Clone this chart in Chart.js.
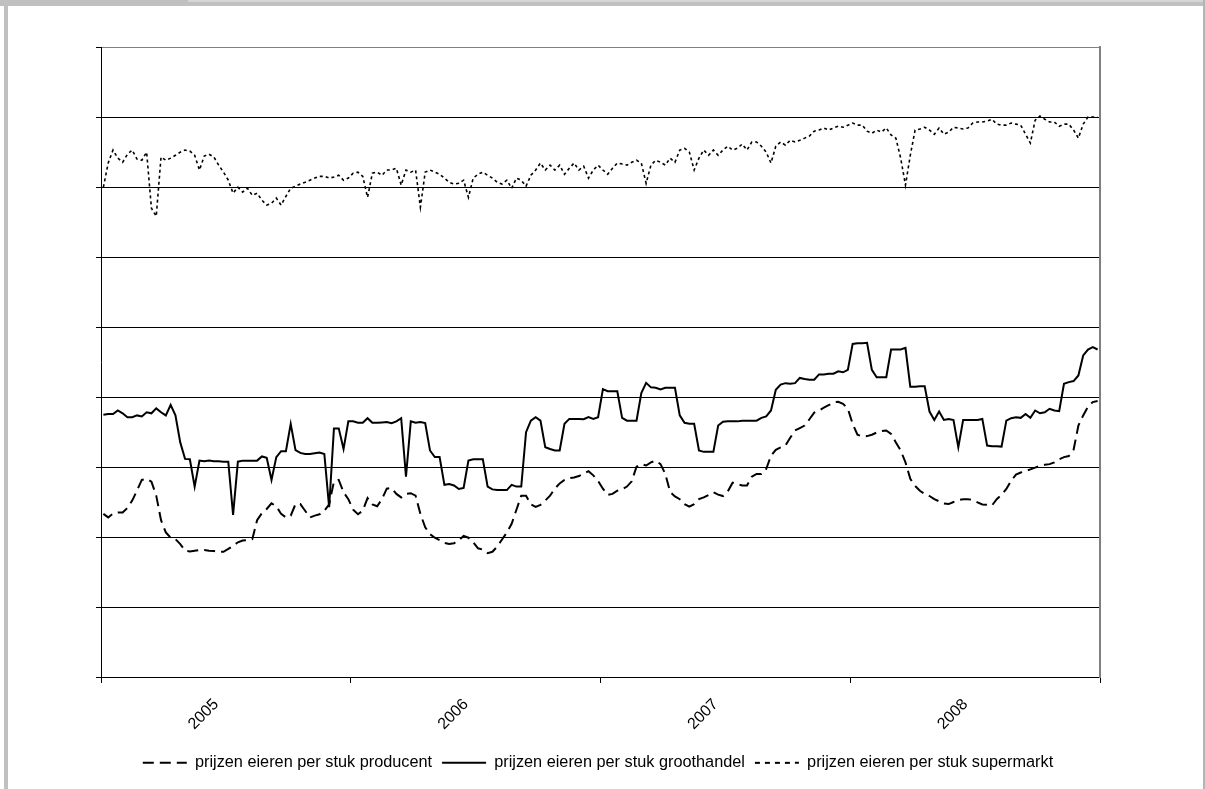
<!DOCTYPE html>
<html><head><meta charset="utf-8">
<script src="https://cdn.jsdelivr.net/npm/chart.js@4/dist/chart.umd.min.js"></script>
<style>
html,body{margin:0;padding:0;background:#fff;width:1205px;height:789px;overflow:hidden;position:relative}
#c{position:absolute;left:0;top:0}
.topbar{position:absolute;left:0;top:0;width:1205px;height:6px;background:#c0c0c0}
.toplight{position:absolute;left:188px;top:0;width:1017px;height:2px;background:#d6d6d6}
.leftbar{position:absolute;left:4px;top:6px;width:4px;height:783px;background:#c0c0c0}
.rightbar{position:absolute;left:1203px;top:0;width:2px;height:789px;background:#b4b4b4}
</style></head><body>
<canvas id="c" width="1205" height="789"></canvas>
<div class="topbar"></div><div class="toplight"></div><div class="leftbar"></div><div class="rightbar"></div>
<script>
const yearLabels = ['2005','2006','2007','2008'];
const seriesNames = ['prijzen eieren per stuk producent','prijzen eieren per stuk groothandel','prijzen eieren per stuk supermarkt'];

const producent = [
4.68,4.58,4.69,4.72,4.72,4.85,5.06,5.35,5.65,5.68,
5.6,5.2,4.5,4.15,4.0,3.96,3.82,3.63,3.61,3.63,
3.65,3.65,3.63,3.62,3.60,3.60,3.68,3.77,3.87,3.92,
3.93,3.96,4.5,4.7,4.82,4.98,4.9,4.68,4.58,4.63,
4.96,4.96,4.77,4.58,4.63,4.67,4.77,4.95,5.6,5.65,
5.3,5.1,4.8,4.67,4.77,5.13,4.95,4.9,5.1,5.4,
5.42,5.25,5.15,5.25,5.27,5.2,4.68,4.3,4.1,4.0,
3.93,3.85,3.82,3.84,3.93,4.05,4.0,3.87,3.7,3.66,
3.56,3.6,3.75,3.95,4.15,4.4,4.8,5.2,5.2,4.95,
4.88,4.94,5.06,5.2,5.4,5.55,5.65,5.7,5.72,5.76,
5.83,5.9,5.78,5.62,5.4,5.22,5.25,5.34,5.38,5.46,
5.61,6.03,6.1,6.06,6.15,6.2,6.1,5.82,5.3,5.18,
5.1,4.96,4.89,4.96,5.1,5.15,5.22,5.3,5.23,5.19,
5.32,5.57,5.53,5.49,5.49,5.74,5.82,5.82,5.96,6.34,
6.51,6.58,6.63,6.85,7.06,7.13,7.2,7.38,7.57,7.63,
7.71,7.78,7.86,7.88,7.82,7.68,7.25,6.94,6.89,6.9,
6.94,7.0,7.04,7.06,6.96,6.72,6.49,6.15,5.68,5.48,
5.34,5.25,5.19,5.1,5.04,4.98,4.96,5.02,5.07,5.1,
5.1,5.08,5.01,4.95,4.94,4.92,5.1,5.23,5.39,5.63,
5.8,5.86,5.9,5.95,6.0,6.05,6.08,6.1,6.15,6.24,
6.3,6.33,6.51,7.2,7.49,7.74,7.87,7.9
];

const groothandel = [
7.51,7.53,7.53,7.63,7.55,7.44,7.44,7.49,7.46,7.58,
7.55,7.69,7.58,7.49,7.79,7.49,6.72,6.25,6.24,5.46,
6.2,6.18,6.2,6.18,6.18,6.17,6.17,4.65,6.17,6.2,
6.2,6.2,6.2,6.32,6.28,5.65,6.3,6.47,6.47,7.25,
6.5,6.42,6.39,6.39,6.41,6.43,6.39,4.87,7.12,7.12,
6.53,7.32,7.32,7.28,7.28,7.41,7.28,7.28,7.29,7.3,
7.27,7.32,7.41,5.74,7.32,7.28,7.3,7.27,6.49,6.3,
6.3,5.51,5.53,5.49,5.39,5.42,6.2,6.24,6.24,6.24,
5.46,5.38,5.36,5.36,5.36,5.51,5.46,5.46,7.01,7.34,
7.44,7.34,6.58,6.53,6.49,6.49,7.25,7.39,7.39,7.39,
7.38,7.44,7.39,7.44,8.24,8.18,8.18,8.18,7.42,7.34,
7.34,7.34,8.13,8.42,8.29,8.28,8.23,8.28,8.28,8.28,
7.49,7.28,7.25,7.25,6.49,6.45,6.45,6.45,7.2,7.31,
7.32,7.32,7.32,7.34,7.34,7.34,7.34,7.42,7.46,7.63,
8.22,8.37,8.41,8.39,8.41,8.56,8.53,8.51,8.51,8.66,
8.66,8.68,8.68,8.75,8.72,8.79,9.53,9.55,9.55,9.56,
8.79,8.58,8.58,8.58,9.37,9.37,9.37,9.42,8.31,8.31,
8.32,8.32,7.6,7.36,7.6,7.36,7.39,7.36,6.58,7.36,
7.36,7.36,7.36,7.39,6.63,6.61,6.61,6.60,7.34,7.41,
7.44,7.42,7.53,7.42,7.63,7.55,7.58,7.68,7.63,7.61,
8.39,8.44,8.47,8.63,9.2,9.37,9.44,9.37
];

const supermarkt = [
14.0,14.69,15.06,14.83,14.71,14.94,15.06,14.8,14.77,15.0,
13.4,13.17,14.86,14.77,14.83,14.91,15.0,15.06,15.03,14.91,
14.49,14.89,14.94,14.86,14.63,14.43,14.2,13.83,14.0,13.86,
13.97,13.77,13.83,13.63,13.49,13.54,13.69,13.49,13.74,13.97,
14.03,14.09,14.14,14.2,14.26,14.31,14.31,14.26,14.29,14.34,
14.2,14.26,14.4,14.43,14.31,13.71,14.4,14.43,14.34,14.49,
14.49,14.54,14.06,14.49,14.43,14.49,13.43,14.43,14.49,14.43,
14.37,14.26,14.14,14.09,14.11,14.2,13.71,14.26,14.37,14.43,
14.34,14.26,14.14,14.09,14.2,13.97,14.26,14.2,14.03,14.34,
14.49,14.69,14.49,14.63,14.49,14.63,14.37,14.54,14.69,14.49,
14.6,14.26,14.49,14.63,14.49,14.37,14.54,14.69,14.66,14.63,
14.71,14.77,14.69,14.11,14.63,14.77,14.71,14.63,14.83,14.71,
15.06,15.11,15.0,14.49,14.83,15.06,14.91,15.06,14.91,15.06,
15.17,15.06,15.11,15.23,15.06,15.29,15.29,15.17,15.0,14.69,
15.17,15.29,15.2,15.34,15.29,15.34,15.4,15.46,15.6,15.63,
15.69,15.63,15.69,15.74,15.71,15.77,15.83,15.77,15.77,15.6,
15.54,15.63,15.57,15.69,15.49,15.4,14.83,14.06,14.91,15.63,
15.66,15.71,15.63,15.51,15.69,15.51,15.57,15.71,15.69,15.66,
15.69,15.83,15.86,15.86,15.89,15.94,15.8,15.77,15.77,15.83,
15.8,15.77,15.51,15.26,15.91,16.03,15.94,15.86,15.86,15.74,
15.8,15.8,15.63,15.4,15.8,16.0,16.0,16.0
];

const WEEKS_PER_YEAR = 52;
const LABEL_AT_WEEK = 24;
const FONT = "'Liberation Sans', Arial, sans-serif";
const toPoints = arr => arr.map((v, i) => ({x: i, y: v}));

const legendDash = [[11,6], [], [5,5]];
const dataDash = [[11,6], [], [3,3]];

const defaultGen = Chart.defaults.plugins.legend.labels.generateLabels;

new Chart(document.getElementById('c'), {
  type: 'line',
  data: {
    datasets: [
      {label: seriesNames[0], data: toPoints(producent), borderColor:'#000', borderWidth:2, borderDash:dataDash[0], pointRadius:0, fill:false, tension:0},
      {label: seriesNames[1], data: toPoints(groothandel), borderColor:'#000', borderWidth:2, borderDash:dataDash[1], pointRadius:0, fill:false, tension:0},
      {label: seriesNames[2], data: toPoints(supermarkt), borderColor:'#000', borderWidth:1.6, borderDash:dataDash[2], pointRadius:0, fill:false, tension:0}
    ]
  },
  options: {
    responsive:false, animation:false, devicePixelRatio:1,
    layout:{padding:{left:96, right:105, top:47, bottom:8}},
    plugins:{
      tooltip:{enabled:false},
      legend:{
        position:'bottom',
        labels:{
          font:{size:16.3, family:FONT}, color:'#000',
          usePointStyle:true, pointStyle:'line', pointStyleWidth:44, padding:10,
          generateLabels(chart){
            const items = defaultGen(chart);
            items.forEach((it, i) => { it.lineDash = legendDash[i]; it.pointStyle = 'line'; it.lineWidth = 2; it.strokeStyle = '#000'; it.fillStyle = '#000'; });
            return items;
          }
        }
      }
    },
    scales:{
      x:{
        type:'linear', min:-0.5, max:207.5, position:'bottom',
        afterBuildTicks(axis){
          const t = [];
          for (let k = 0; k <= yearLabels.length; k++) t.push({value: -0.5 + WEEKS_PER_YEAR*k});
          yearLabels.forEach((y, k) => t.push({value: -0.5 + WEEKS_PER_YEAR*k + LABEL_AT_WEEK, yl: y}));
          t.sort((a,b) => a.value - b.value);
          axis.ticks = t;
        },
        afterFit(axis){ axis.height -= 1; },
        ticks:{autoSkip:false, minRotation:45, maxRotation:45, padding:12, color:'#000', font:{size:16, family:FONT},
          callback(v, i, ticks){ return ticks[i].yl || ''; }},
        grid:{drawOnChartArea:false, tickLength:5, tickWidth:1,
          tickColor: c => (c.tick && c.tick.yl) ? 'rgba(0,0,0,0)' : '#000'},
        border:{color:'#000', width:1}
      },
      y:{
        min:0, max:18, position:'left',
        ticks:{display:false, stepSize:2},
        grid:{color: c => (c.tick && c.tick.value === 18) ? '#808080' : '#000', lineWidth:1, tickLength:5, tickColor:'#000'},
        border:{color:'#000', width:1}
      },
      y2:{
        min:0, max:18, position:'right',
        ticks:{display:false},
        grid:{drawOnChartArea:false, drawTicks:false},
        border:{color:'#808080', width:2}
      }
    }
  }
});
</script>
</body></html>
